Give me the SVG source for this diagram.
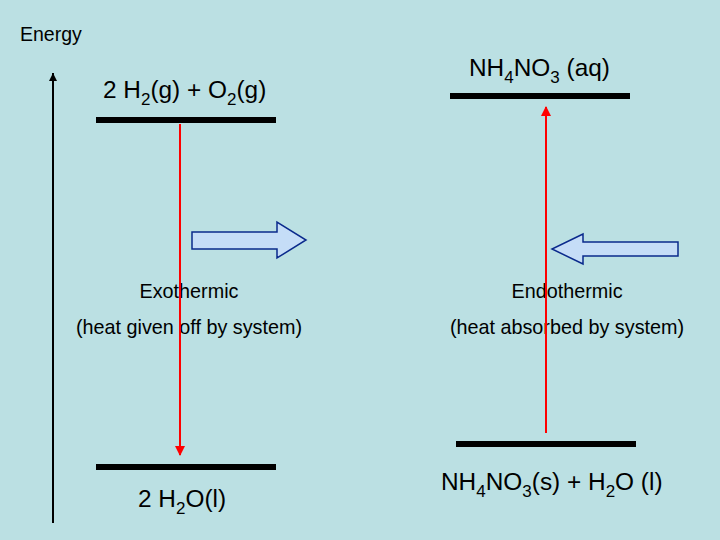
<svg xmlns="http://www.w3.org/2000/svg" width="720" height="540" viewBox="0 0 720 540">
<style>
text{font-family:"Liberation Sans",Arial,sans-serif;fill:#000}
.big{font-size:24.4px}
.med{font-size:19.8px}
.sub{font-size:17px}
.bar{stroke:#000;stroke-width:6}
.red{stroke:#F00;stroke-width:2}
.hollow{fill:#C5DDF7;stroke:#0A2A8C;stroke-width:1.5}
</style>
<defs>
<marker id="ra" markerWidth="10" markerHeight="12" refX="9" refY="5" orient="auto" markerUnits="userSpaceOnUse">
<path d="M0,0 L10,5 L0,10 Z" fill="#F00"/>
</marker>
<marker id="ka" markerWidth="8" markerHeight="10" refX="8" refY="4" orient="auto" markerUnits="userSpaceOnUse">
<path d="M0,0 L8,4 L0,8 Z" fill="#000"/>
</marker>
</defs>
<rect width="720" height="540" fill="#BBE0E3"/>
<g id="axis">
<line x1="53" y1="523" x2="53" y2="73" stroke="#000" stroke-width="2" marker-end="url(#ka)"/>
<text x="20" y="41" style="font-size:19.5px">Energy</text>
</g>
<g id="reactants-exo">
<line class="bar" x1="96" y1="120" x2="276" y2="120"/>
<text x="103" y="98" class="big">2 H<tspan class="sub" dy="7">2</tspan><tspan dy="-7">(g) + O</tspan><tspan class="sub" dy="7">2</tspan><tspan dy="-7">(g)</tspan></text>
</g>
<g id="products-exo">
<line class="bar" x1="96" y1="467" x2="276" y2="467"/>
<text x="138" y="507" class="big">2 H<tspan class="sub" dy="7">2</tspan><tspan dy="-7">O(l)</tspan></text>
</g>
<g id="reactants-endo">
<line class="bar" x1="450" y1="96" x2="630" y2="96"/>
<text x="469" y="76" class="big">NH<tspan class="sub" dy="7">4</tspan><tspan dy="-7">NO</tspan><tspan class="sub" dy="7">3</tspan><tspan dy="-7"> (aq)</tspan></text>
</g>
<g id="products-endo">
<line class="bar" x1="456" y1="444" x2="636" y2="444"/>
<text x="441" y="490" class="big">NH<tspan class="sub" dy="7">4</tspan><tspan dy="-7">NO</tspan><tspan class="sub" dy="7">3</tspan><tspan dy="-7">(s) + H</tspan><tspan class="sub" dy="7">2</tspan><tspan dy="-7">O (l)</tspan></text>
</g>
<g id="heat-out">
<path class="hollow" d="M192,232 H277 V222 L306,240 L277,258 V249 H192 Z"/>
</g>
<g id="heat-in">
<path class="hollow" d="M678,242 H583 V234 L552,249 L583,264 V256 H678 Z"/>
</g>
<g id="labels">
<text x="189" y="298" class="med" text-anchor="middle">Exothermic</text>
<text x="189" y="334" class="med" text-anchor="middle">(heat given off by system)</text>
<text x="567" y="298" class="med" text-anchor="middle">Endothermic</text>
<text x="567" y="334" class="med" text-anchor="middle">(heat absorbed by system)</text>
</g>
<g id="connectors">
<line class="red" x1="180" y1="124" x2="180" y2="455" marker-end="url(#ra)"/>
<line class="red" x1="546" y1="433" x2="546" y2="107" marker-end="url(#ra)"/>
</g>
</svg>
